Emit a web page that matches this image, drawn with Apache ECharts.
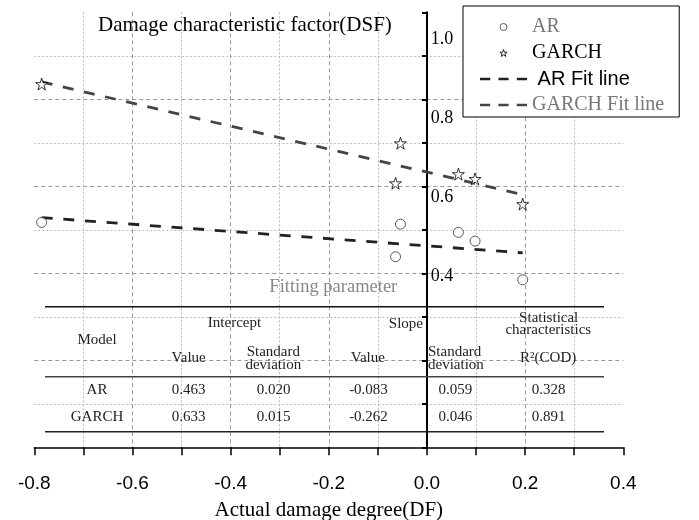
<!DOCTYPE html>
<html>
<head>
<meta charset="utf-8">
<script src="https://cdn.jsdelivr.net/npm/echarts@6/dist/echarts.min.js"></script>
<style>html,body{margin:0;padding:0;background:#fff}#c{width:699px;height:520px}</style>
</head>
<body>
<div id="c"></div>
<script>
// ---- data ----
var dfValues = [-0.785, -0.064, -0.054, 0.064, 0.098, 0.195];
var arDSF = [0.517, 0.438, 0.513, 0.494, 0.474, 0.385];
var garchDSF = [0.835, 0.607, 0.699, 0.628, 0.617, 0.559];
var fitX = [-0.785, 0.195];
var arFitY = [0.528, 0.447];
var garchFitY = [0.840, 0.581];
var yTickLabels = [0.4, 0.6, 0.8, 1.0];
var models = ['AR', 'GARCH'];
var interceptValue = [0.463, 0.633];
var interceptSD = [0.020, 0.015];
var slopeValue = [-0.083, -0.262];
var slopeSD = [0.059, 0.046];
var r2COD = [0.328, 0.891];

function pairs(xs, ys) { return xs.map(function (x, i) { return [x, ys[i]]; }); }

var SERIF = 'Liberation Serif';
var SANS = 'Liberation Sans';
var starPath = 'path://M50,2 L61.2,36.6 L97.6,36.6 L68.2,58 L79.4,92.6 L50,71.2 L20.6,92.6 L31.8,58 L2.4,36.6 L38.8,36.6 Z';
var dashIcon = 'path://M0,0h10v2.6h-10z M18,0h10v2.6h-10z M36,0h10v2.6h-10z';

// ---- table graphic ----
var tFont = '15px "' + SERIF + '"';
function txt(x, y, s, align) {
  return { type: 'text', x: x, y: y, z: 10, style: { text: s, font: tFont, fill: '#222', align: align || 'center', verticalAlign: 'middle' } };
}
function hline(y, w, c) {
  return { type: 'line', z: 10, shape: { x1: 45, y1: y, x2: 604, y2: y }, style: { stroke: c || '#111', lineWidth: w || 1.5 } };
}
var colX = [97, 188.5, 273.5, 368.5, 455.3, 548.5];
var rowY = [390, 417.3];
var graphics = [
  { type: 'text', x: 333.3, y: 286.7, z: 10, style: { text: 'Fitting parameter', font: '18.5px "' + SERIF + '"', fill: '#888', align: 'center', verticalAlign: 'middle' } },
  hline(306.7, 1.5, '#111'),
  hline(376.7, 1.5, '#444'),
  hline(431.7, 1.5, '#222'),
  txt(97, 340, 'Model'),
  txt(234.5, 323.3, 'Intercept'),
  txt(423, 324.3, 'Slope', 'right'),
  txt(548.7, 317.7, 'Statistical'),
  txt(548.3, 330, 'characteristics'),
  txt(188.7, 358.3, 'Value'),
  txt(273.3, 351.7, 'Standard'),
  txt(273.3, 365, 'deviation'),
  txt(367.8, 358.3, 'Value'),
  txt(428, 351.7, 'Standard', 'left'),
  txt(428, 365, 'deviation', 'left'),
  txt(548.2, 358.3, 'R\u00B2(COD)')
];
models.forEach(function (m, i) {
  var y = rowY[i];
  graphics.push(txt(colX[0], y, m));
  graphics.push(txt(colX[1], y, interceptValue[i].toFixed(3)));
  graphics.push(txt(colX[2], y, interceptSD[i].toFixed(3)));
  graphics.push(txt(colX[3], y, slopeValue[i].toFixed(3)));
  graphics.push(txt(colX[4], y, slopeSD[i].toFixed(3)));
  graphics.push(txt(colX[5], y, r2COD[i].toFixed(3)));
});

var chart = echarts.init(document.getElementById('c'), null, { renderer: 'canvas' });
chart.setOption({
  animation: false,
  backgroundColor: '#fff',
  title: {
    text: 'Damage characteristic factor(DSF)',
    left: 98, top: 15, padding: 0,
    textStyle: { fontFamily: SERIF, fontSize: 21, fontWeight: 'normal', color: '#000' }
  },
  legend: {
    orient: 'vertical', left: 463, top: 6, padding: [11, 15, 2, 17],
    itemWidth: 47, itemHeight: 7, itemGap: 6,
    borderColor: '#000', borderWidth: 1, borderRadius: 0, backgroundColor: '#fff',
    textStyle: { fontFamily: SERIF, fontSize: 20, lineHeight: 20, color: '#000' },
    formatter: function (n) { return n === 'AR Fit line' ? ' ' + n : n; },
    data: [
      { name: 'AR', icon: 'circle', itemStyle: { color: '#fff', borderColor: '#333', borderWidth: 1 }, textStyle: { color: '#777' } },
      { name: 'GARCH', icon: starPath, itemStyle: { color: '#fff', borderColor: '#000', borderWidth: 1 } },
      { name: 'AR Fit line', icon: dashIcon, itemStyle: { color: '#222', borderWidth: 0 }, textStyle: { fontFamily: SANS, color: '#000' } },
      { name: 'GARCH Fit line', icon: dashIcon, itemStyle: { color: '#444', borderWidth: 0 }, textStyle: { color: '#777' } }
    ]
  },
  grid: { left: 34.3, right: 75.7, top: 12.3, bottom: 72.7, containLabel: false, outerBoundsMode: 'none' },
  xAxis: {
    type: 'value', min: -0.8, max: 0.4, interval: 0.2,
    name: 'Actual damage degree(DF)', nameLocation: 'middle', nameGap: 53,
    nameTextStyle: { fontFamily: SERIF, fontSize: 21, color: '#000' },
    axisLine: { onZero: false, lineStyle: { color: '#000', width: 1.5 } },
    axisTick: { show: true, length: 8, lineStyle: { color: '#000', width: 1.5 } },
    minorTick: { show: true, splitNumber: 2, length: 8, lineStyle: { color: '#000', width: 1.5 } },
    axisLabel: { margin: 27, fontFamily: SANS, fontSize: 19, color: '#000', formatter: function (v) { return v.toFixed(1); } },
    splitLine: { show: true, showMinLine: false, showMaxLine: false, lineStyle: { color: '#999', width: 1, type: [4, 3] } },
    minorSplitLine: { show: true, lineStyle: { color: '#bbb', width: 1, type: [2, 2] } }
  },
  yAxis: [
    {
      type: 'value', min: 0, max: 1.0, interval: 0.2,
      axisLine: { show: true, onZero: true, onZeroAxisIndex: 0, lineStyle: { color: '#000', width: 2 } },
      axisTick: { show: true, length: 5, lineStyle: { color: '#000', width: 2 } },
      minorTick: { show: true, splitNumber: 2, length: 5, lineStyle: { color: '#000', width: 2 } },
      axisLabel: { show: false },
      splitLine: { show: true, showMinLine: false, showMaxLine: false, lineStyle: { color: '#999', width: 1, type: [4, 3] } },
      minorSplitLine: { show: true, lineStyle: { color: '#bbb', width: 1, type: [2, 2] } }
    },
    {
      type: 'value', min: -0.0325, max: 1.0688, position: 'left', offset: -392.4,
      axisLine: { show: false, onZero: false },
      axisTick: { show: false },
      splitLine: { show: false },
      axisLabel: {
        show: true, inside: true, margin: 4, customValues: yTickLabels,
        fontFamily: SERIF, fontSize: 18, color: '#000',
        formatter: function (v) { return v.toFixed(1); }
      }
    }
  ],
  graphic: graphics,
  series: [
    { name: 'AR Fit line', type: 'line', data: pairs(fitX, arFitY), symbol: 'none', z: 3,
      itemStyle: { color: '#222' },
      lineStyle: { color: '#222', width: 2.8, type: [11, 10.7] } },
    { name: 'GARCH Fit line', type: 'line', data: pairs(fitX, garchFitY), symbol: 'none', z: 3,
      itemStyle: { color: '#444' },
      lineStyle: { color: '#444', width: 2.8, type: [11, 10.7] } },
    { name: 'AR', type: 'scatter', data: pairs(dfValues, arDSF), symbol: 'circle', symbolSize: 10, z: 4,
      itemStyle: { color: '#fff', borderColor: '#333', borderWidth: 1 } },
    { name: 'GARCH', type: 'scatter', data: pairs(dfValues, garchDSF), symbol: starPath, symbolSize: 12, z: 4,
      itemStyle: { color: '#fff', borderColor: '#000', borderWidth: 1 } }
  ]
});
</script>
</body>
</html>
